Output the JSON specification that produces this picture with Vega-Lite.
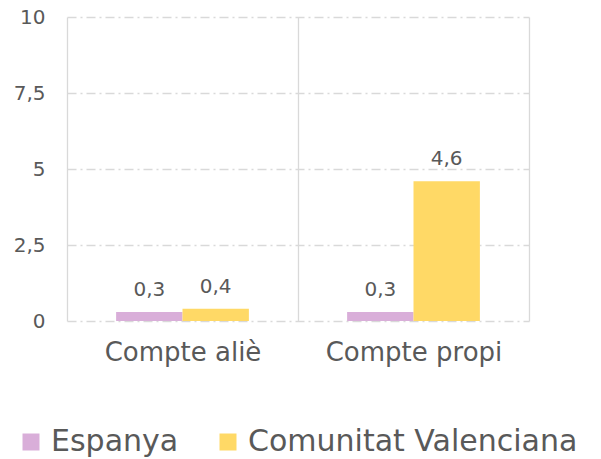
{
  "$schema": "https://vega.github.io/schema/vega-lite/v6.json",
  "width": 462,
  "height": 304,
  "autosize": {"type": "none"},
  "padding": {"left": 67, "top": 17, "right": 72, "bottom": 138},
  "config": {
    "locale": {"number": {"decimal": ",", "thousands": ".", "grouping": [3], "currency": ["", " €"]}},
    "view": {"stroke": null},
    "font": "DejaVu Sans"
  },
  "data": {
    "values": [
      {"cat": "Compte aliè", "region": "Espanya", "value": 0.3},
      {"cat": "Compte aliè", "region": "Comunitat Valenciana", "value": 0.4},
      {"cat": "Compte propi", "region": "Espanya", "value": 0.3},
      {"cat": "Compte propi", "region": "Comunitat Valenciana", "value": 4.6}
    ]
  },
  "encoding": {
    "x": {
      "field": "cat", "type": "nominal",
      "scale": {"paddingInner": 0, "paddingOuter": 0},
      "axis": {"title": null, "labelAngle": 0, "tickBand": "extent", "grid": true, "gridColor": "#D9D9D9", "gridWidth": 1.3, "ticks": false, "domain": false, "labelFontSize": 26, "labelColor": "#595959", "labelPadding": 18}
    },
    "xOffset": {"field": "region", "type": "nominal", "sort": ["Espanya", "Comunitat Valenciana"], "scale": {"paddingOuter": 0.74, "paddingInner": 0}},
    "y": {
      "field": "value", "type": "quantitative",
      "scale": {"domain": [0, 10]},
      "axis": {"title": null, "values": [0, 2.5, 5, 7.5, 10], "format": ".1~f", "grid": true, "gridDash": [9, 4, 2, 4], "gridColor": "#D9D9D9", "gridWidth": 1.3, "domain": false, "ticks": false, "labelFontSize": 20, "labelColor": "#595959", "labelPadding": 22}
    }
  },
  "layer": [
    {
      "mark": {"type": "bar"},
      "encoding": {
        "color": {
          "field": "region", "type": "nominal",
          "sort": ["Espanya", "Comunitat Valenciana"],
          "scale": {"domain": ["Espanya", "Comunitat Valenciana"], "range": ["#D9AED9", "#FFD966"]},
          "legend": {"orient": "none", "legendX": -51, "legendY": 410, "direction": "horizontal", "title": null, "symbolType": "square", "symbolSize": 289, "symbolStrokeWidth": 0, "labelFontSize": 30, "labelColor": "#595959", "labelLimit": 0, "columnPadding": 34, "labelOffset": 5}
        }
      }
    },
    {
      "mark": {"type": "text", "baseline": "alphabetic", "dy": -16, "fontSize": 20, "color": "#595959"},
      "encoding": {"text": {"field": "value", "type": "quantitative", "format": ".1f"}}
    }
  ]
}
